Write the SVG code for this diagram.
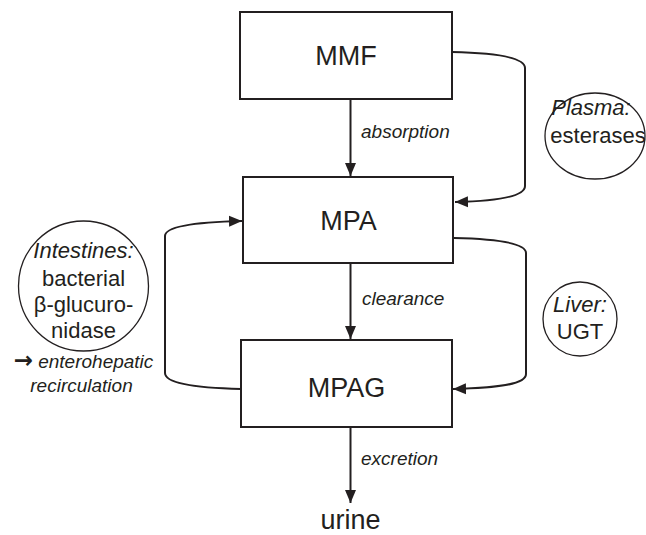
<svg xmlns="http://www.w3.org/2000/svg" width="646" height="535" viewBox="0 0 646 535">
<style>
.box{fill:#fff;stroke:#231f20;stroke-width:2}
.ring{fill:none;stroke:#231f20;stroke-width:1.3}
.con{fill:none;stroke:#231f20;stroke-width:2}
text{font-family:"Liberation Sans",Arial,sans-serif;fill:#231f20}
.node{font-size:27px;text-anchor:middle}
.lbl{font-size:19px;font-style:italic}
.ct{font-size:22px;text-anchor:middle}
.it{font-style:italic}
.arw{font-family:"DejaVu Sans",sans-serif;font-style:normal;font-size:23px;font-weight:bold}
</style>
<defs>
<marker id="ah" markerUnits="userSpaceOnUse" markerWidth="14" markerHeight="12" viewBox="0 0 14 12" refX="13" refY="6" orient="auto">
<path d="M0,0.5 L13,6 L0,11.5 Z" fill="#231f20"/>
</marker>
</defs>
<g id="connectors">
<line class="con" x1="350.5" y1="99" x2="350.5" y2="176" marker-end="url(#ah)"/>
<line class="con" x1="350.5" y1="263" x2="350.5" y2="339" marker-end="url(#ah)"/>
<line class="con" x1="350.5" y1="427" x2="350.5" y2="503" marker-end="url(#ah)"/>
<path class="con" d="M452,52 C500,53 525,58 525,68 L525,186 C525,196 500,201 455,202" marker-end="url(#ah)"/>
<path class="con" d="M454,238 C500,239 526,244 526,253 L526,374 C526,384 500,388 453,389" marker-end="url(#ah)"/>
<path class="con" d="M241,389 C200,388 165,384 165,373 L165,236 C165,226 200,222 242,221" marker-end="url(#ah)"/>
<text class="lbl" x="361" y="138">absorption</text>
<text class="lbl" x="362" y="305">clearance</text>
<text class="lbl" x="361" y="465">excretion</text>
</g>
<g id="MMF">
<rect class="box" x="240" y="12" width="212" height="87"/>
<text class="node" x="346" y="65">MMF</text>
</g>
<g id="MPA">
<rect class="box" x="243" y="177" width="210" height="86"/>
<text class="node" x="348.5" y="230">MPA</text>
</g>
<g id="MPAG">
<rect class="box" x="241" y="340" width="211" height="87"/>
<text class="node" x="346.5" y="397">MPAG</text>
</g>
<g id="urine">
<text class="node" x="350.5" y="529">urine</text>
</g>
<g id="plasma">
<ellipse class="ring" cx="595" cy="136" rx="50" ry="43"/>
<text class="ct it" x="591" y="115">Plasma:</text>
<text class="ct" x="598" y="143">esterases</text>
</g>
<g id="liver">
<circle class="ring" cx="580" cy="319" r="37"/>
<text class="ct it" x="580" y="312">Liver:</text>
<text class="ct" x="580" y="339">UGT</text>
</g>
<g id="intestines">
<circle class="ring" cx="83.5" cy="286" r="65"/>
<text class="ct it" x="83.5" y="258">Intestines:</text>
<text class="ct" x="83.5" y="286">bacterial</text>
<text class="ct" x="83.5" y="312">β-glucuro-</text>
<text class="ct" x="83.5" y="338">nidase</text>
<text class="lbl" x="83.5" y="368" text-anchor="middle"><tspan class="arw">→</tspan> enterohepatic</text>
<text class="lbl" x="81.5" y="392" text-anchor="middle">recirculation</text>
</g>
</svg>
